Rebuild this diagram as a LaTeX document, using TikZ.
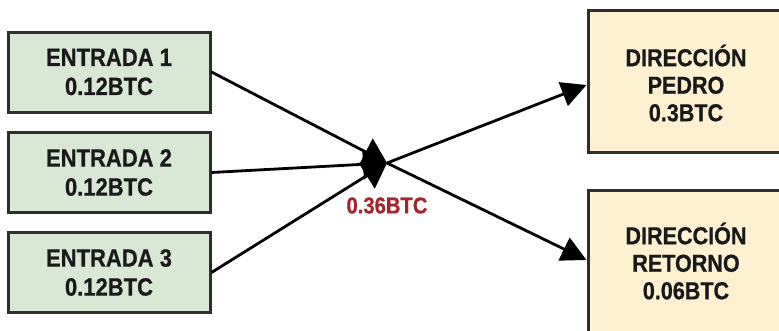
\documentclass[tikz,border=0pt]{standalone}
\usepackage{fontspec}
\setmainfont{Liberation Sans}[FakeStretch=0.88, BoldFeatures={FakeBold=0.7}]
\usetikzlibrary{arrows.meta}
\definecolor{inFill}{HTML}{D9E8D5}
\definecolor{outFill}{HTML}{FDF1D2}
\definecolor{edgeC}{HTML}{2E2E2E}
\definecolor{amt}{HTML}{A3262E}
\tikzset{
  inbox/.style={draw=edgeC, line width=3pt, fill=inFill, minimum width=202pt, minimum height=80pt,
    align=center, font={\bfseries\fontsize{25}{29}\selectfont}, text=black!90, inner sep=0pt},
  outbox/.style={draw=edgeC, line width=3pt, fill=outFill, minimum width=196pt, inner sep=0pt},
  outtext/.style={align=center, font={\bfseries\fontsize{24.5}{27.5}\selectfont}, text=black!90, inner sep=0pt},
  flow/.style={line width=2.8pt, black},
  intip/.style={-{Triangle[length=24pt, width=30pt]}},
  outtip/.style={-{Triangle[length=25pt, width=25pt]}}
}
\begin{document}
\begin{tikzpicture}[x=1pt, y=-1pt]
\useasboundingbox (0,0) rectangle (779,330);
\clip (0,0) rectangle (779,330);
\fill[white] (0,0) rectangle (779,330);
\node[inbox] (in1) at (109,72) {ENTRADA 1\\0.12BTC};
\node[inbox] (in2) at (109,172.5) {ENTRADA 2\\0.12BTC};
\node[inbox] (in3) at (109,272.5) {ENTRADA 3\\0.12BTC};
\node[outbox, minimum height=142pt] (pedro) at (686,81) {};
\node[outtext] (pedrot) at (686,83) {DIRECCIÓN\\PEDRO\\0.3BTC};
\node[outbox, minimum height=155pt] (retorno) at (686,267.5) {};
\node[outtext] (retornot) at (686,261) {DIRECCIÓN\\RETORNO\\0.06BTC};
\coordinate (j) at (387,163);
\draw[flow, intip] (in1.east) -- (j);
\draw[flow, intip] (in2.east) -- (j);
\draw[flow, intip] (in3.east) -- (j);
\draw[flow, outtip] (j) -- ([yshift=-4pt]pedro.west);
\draw[flow, outtip] (j) -- ([yshift=7.5pt]retorno.west);
\node[text=amt, font={\bfseries\fontsize{23}{24}\selectfont}, inner sep=0pt] (total) at (387,205.5) {0.36BTC};
\end{tikzpicture}
\end{document}
